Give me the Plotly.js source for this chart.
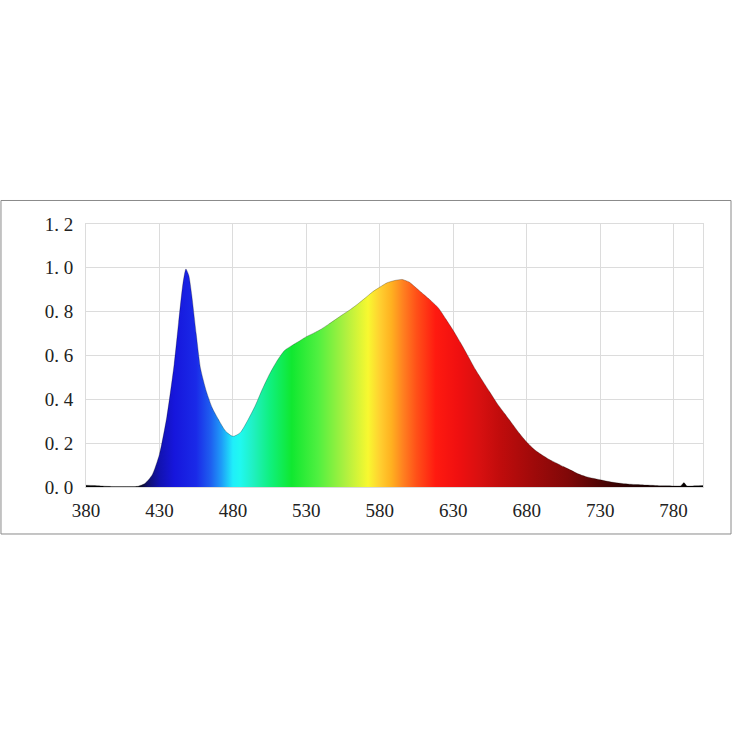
<!DOCTYPE html>
<html>
<head>
<meta charset="utf-8">
<script src="https://cdn.plot.ly/plotly-3.0.1.min.js"></script>
<style>
  html, body { margin: 0; padding: 0; background: #ffffff; }
  #chart { width: 736px; height: 736px; }
</style>
</head>
<body>
<div id="chart"></div>
<script>
// Wavelength (nm) and relative intensity
const wavelengths = [380,385,390,395,400,405,410,415,420,425,430,435,440,443,446,448,450,452,455,458,462,466,470,475,480,485,490,495,500,505,510,515,520,525,530,535,540,545,550,555,560,565,570,575,580,585,590,595,600,605,610,615,620,625,630,635,640,645,650,655,660,665,670,675,680,685,690,695,700,705,710,715,720,725,730,735,740,745,750,755,760,765,770,775,780,785,787,789,795,800];
const intensity   = [0.008,0.007,0.005,0.003,0.002,0.002,0.002,0.003,0.016,0.055,0.15,0.32,0.56,0.75,0.93,0.995,0.965,0.875,0.70,0.54,0.435,0.36,0.31,0.255,0.231,0.248,0.303,0.368,0.446,0.516,0.575,0.622,0.645,0.665,0.686,0.702,0.72,0.742,0.765,0.788,0.81,0.835,0.862,0.89,0.912,0.932,0.942,0.947,0.935,0.907,0.878,0.849,0.816,0.766,0.714,0.658,0.598,0.537,0.484,0.432,0.38,0.335,0.29,0.245,0.205,0.172,0.148,0.127,0.11,0.093,0.077,0.06,0.048,0.04,0.033,0.026,0.02,0.016,0.013,0.011,0.009,0.008,0.006,0.006,0.005,0.006,0.02,0.005,0.006,0.007];

// Axis ticks
const xTickVals = [380,430,480,530,580,630,680,730,780];
const xTickText = ["380","430","480","530","580","630","680","730","780"];
const yTickVals = [0,0.2,0.4,0.6,0.8,1.0,1.2];
const yTickText = ["0. 0","0. 2","0. 4","0. 6","0. 8","1. 0","1. 2"];

// Spectral fill colours (wavelength stop -> colour)
const colorStopNm  = [380,415,422,430,440,455,465,472,480,485,494,505,520,538,557,572,580,588,596,605,618,633,648,662,684,708,730,750,780,800];
const colorStopHex = ["#000000","#050505","#10106a","#1212b0","#1616dc","#1a2ae8","#1e60f0","#1e9af8","#20eefa","#20f8f0","#20f0c0","#10f080","#10e830","#50f040","#b0f040","#f8f830","#ffd030","#ffb020","#ff8020","#ff5018","#ff1a10","#f01010","#d81010","#c00c0c","#a00a0a","#800808","#500505","#280202","#0a0000","#000000"];

const xMin = 380, xMax = 800;
const colorscale = colorStopNm.map((nm, i) => [(nm - xMin) / (xMax - xMin), colorStopHex[i]]);

const trace = {
  type: 'scatter',
  mode: 'lines',
  x: wavelengths,
  y: intensity,
  fill: 'tozeroy',
  fillgradient: { type: 'horizontal', colorscale: colorscale, start: xMin, stop: xMax },
  line: { color: 'rgba(0,0,0,0.25)', width: 1, shape: 'spline', smoothing: 0.6 },
  hoverinfo: 'skip',
  showlegend: false
};

const tickFont = { family: '"Liberation Serif", "DejaVu Serif", serif', size: 19, color: '#222222' };

const layout = {
  width: 736,
  height: 736,
  margin: { l: 86, r: 33, t: 224, b: 249, pad: 0 },
  paper_bgcolor: '#ffffff',
  plot_bgcolor: '#ffffff',
  showlegend: false,
  xaxis: {
    range: [xMin, xMax],
    tickmode: 'array',
    tickvals: xTickVals,
    ticktext: xTickText,
    tickfont: tickFont,
    ticks: 'outside',
    ticklen: 6,
    tickcolor: 'rgba(0,0,0,0)',
    showgrid: true,
    gridcolor: '#dcdcdc',
    gridwidth: 1,
    zeroline: false,
    showline: true,
    linecolor: '#dcdcdc',
    linewidth: 1,
    mirror: true,
    fixedrange: true
  },
  yaxis: {
    range: [0, 1.2],
    tickmode: 'array',
    tickvals: yTickVals,
    ticktext: yTickText,
    tickfont: tickFont,
    ticks: 'outside',
    ticklen: 8,
    tickcolor: 'rgba(0,0,0,0)',
    showgrid: true,
    gridcolor: '#dcdcdc',
    gridwidth: 1,
    zeroline: false,
    showline: true,
    linecolor: '#dcdcdc',
    linewidth: 1,
    mirror: true,
    fixedrange: true
  },
  shapes: [{
    type: 'rect',
    xref: 'paper', yref: 'paper',
    x0: -0.1378, x1: 1.0454,
    y0: -0.1787, y1: 1.0894,
    line: { color: '#8a8a8a', width: 1 },
    fillcolor: 'rgba(0,0,0,0)',
    layer: 'below'
  }]
};

Plotly.newPlot('chart', [trace], layout, { displayModeBar: false, staticPlot: true });
</script>
</body>
</html>
